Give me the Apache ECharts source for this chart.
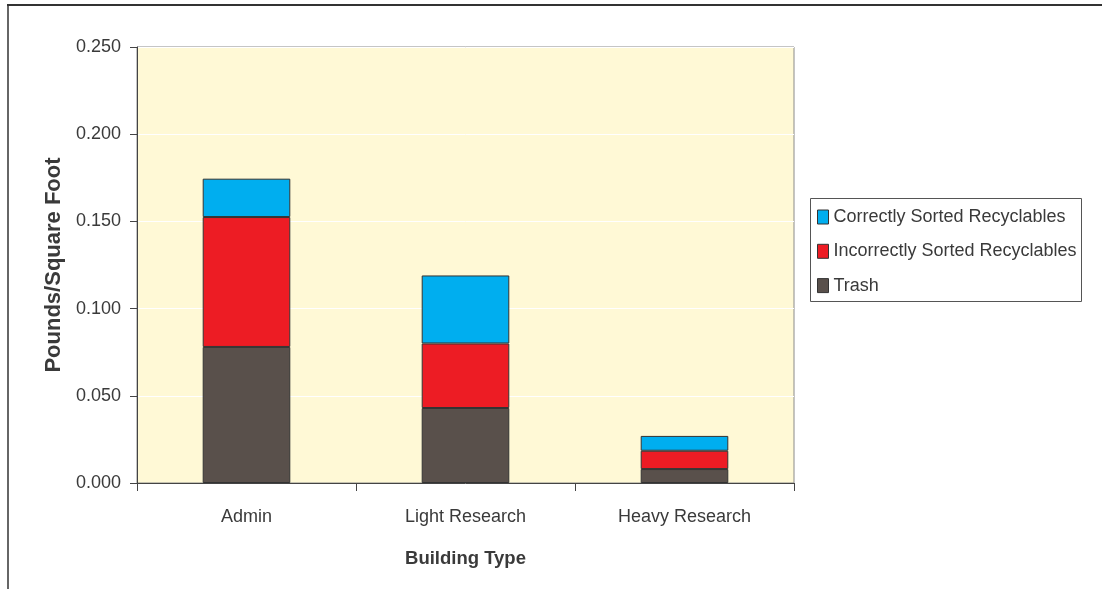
<!DOCTYPE html>
<html>
<head>
<meta charset="utf-8">
<script src="https://cdn.jsdelivr.net/npm/echarts@6/dist/echarts.min.js"></script>
<style>
  html, body { margin: 0; padding: 0; background: #ffffff; }
  #chart { width: 1102px; height: 589px; }
</style>
</head>
<body>
<div id="chart"></div>
<script>
// Waste generated per square foot, by building type
const categories = ['Admin', 'Light Research', 'Heavy Research'];
const trash = [0.078, 0.043, 0.008];
const incorrectlySorted = [0.0745, 0.037, 0.0105];
const correctlySorted = [0.022, 0.039, 0.0085];
const yTicks = { min: 0, max: 0.25, interval: 0.05 };

const FONT = '"Liberation Sans", Arial, Helvetica, sans-serif';
const TEXT = '#3a3a3a';

const chart = echarts.init(document.getElementById('chart'), null, { renderer: 'canvas' });

function stackSeries(name, data, color) {
  return {
    name: name,
    type: 'bar',
    stack: 'total',
    data: data,
    barWidth: '40%',
    itemStyle: { color: color, borderColor: '#333333', borderWidth: 1 },
    emphasis: { disabled: true }
  };
}

chart.setOption({
  animation: false,
  backgroundColor: '#ffffff',
  grid: {
    left: 137, right: 308, top: 47, bottom: 106,
    show: true,
    backgroundColor: '#FFF9D6',
    borderColor: '#8a8a8a',
    borderWidth: 1
  },
  legend: {
    orient: 'vertical',
    left: 817, top: 208,
    padding: 0,
    itemWidth: 11, itemHeight: 14,
    itemGap: 16.3,
    selectedMode: false,
    icon: 'rect',
    data: ['Correctly Sorted Recyclables', 'Incorrectly Sorted Recyclables', 'Trash'],
    itemStyle: { borderColor: '#333333', borderWidth: 1 },
    textStyle: { fontFamily: FONT, fontSize: 18, lineHeight: 14, color: TEXT }
  },
  graphic: [
    // outer frame: top rule and left rule
    { type: 'line', shape: { x1: 7, y1: 5, x2: 1102, y2: 5 }, style: { stroke: '#333333', lineWidth: 2 } },
    { type: 'line', shape: { x1: 8, y1: 4, x2: 8, y2: 589 }, style: { stroke: '#333333', lineWidth: 1.5 } },
    // legend box
    { type: 'rect', shape: { x: 810.5, y: 198.5, width: 271, height: 103 }, style: { fill: 'none', stroke: '#555555', lineWidth: 1 } }
  ],
  xAxis: {
    type: 'category',
    data: categories,
    name: 'Building Type',
    nameLocation: 'middle',
    nameGap: 66,
    nameTextStyle: { fontFamily: FONT, fontSize: 18.5, fontWeight: 'bold', color: TEXT },
    axisLine: { lineStyle: { color: '#444444', width: 1 } },
    axisTick: { show: true, length: 8, lineStyle: { color: '#444444' } },
    axisLabel: { fontFamily: FONT, fontSize: 18, color: TEXT, margin: 25 },
    splitLine: { show: false }
  },
  yAxis: {
    type: 'value',
    min: yTicks.min, max: yTicks.max, interval: yTicks.interval,
    name: 'Pounds/Square Foot',
    nameLocation: 'middle',
    nameGap: 62,
    nameTextStyle: { fontFamily: FONT, fontSize: 22, fontWeight: 'bold', color: TEXT },
    axisLine: { show: true, lineStyle: { color: '#444444', width: 1 } },
    axisTick: { show: true, length: 7, lineStyle: { color: '#444444' } },
    axisLabel: {
      fontFamily: FONT, fontSize: 18, color: TEXT, margin: 16,
      formatter: function (v) { return v.toFixed(3); }
    },
    splitLine: { show: true, lineStyle: { color: '#ffffff', width: 1 } }
  },
  series: [
    stackSeries('Trash', trash, '#59504B'),
    stackSeries('Incorrectly Sorted Recyclables', incorrectlySorted, '#ED1C24'),
    stackSeries('Correctly Sorted Recyclables', correctlySorted, '#00AEEF')
  ]
});
</script>
</body>
</html>
